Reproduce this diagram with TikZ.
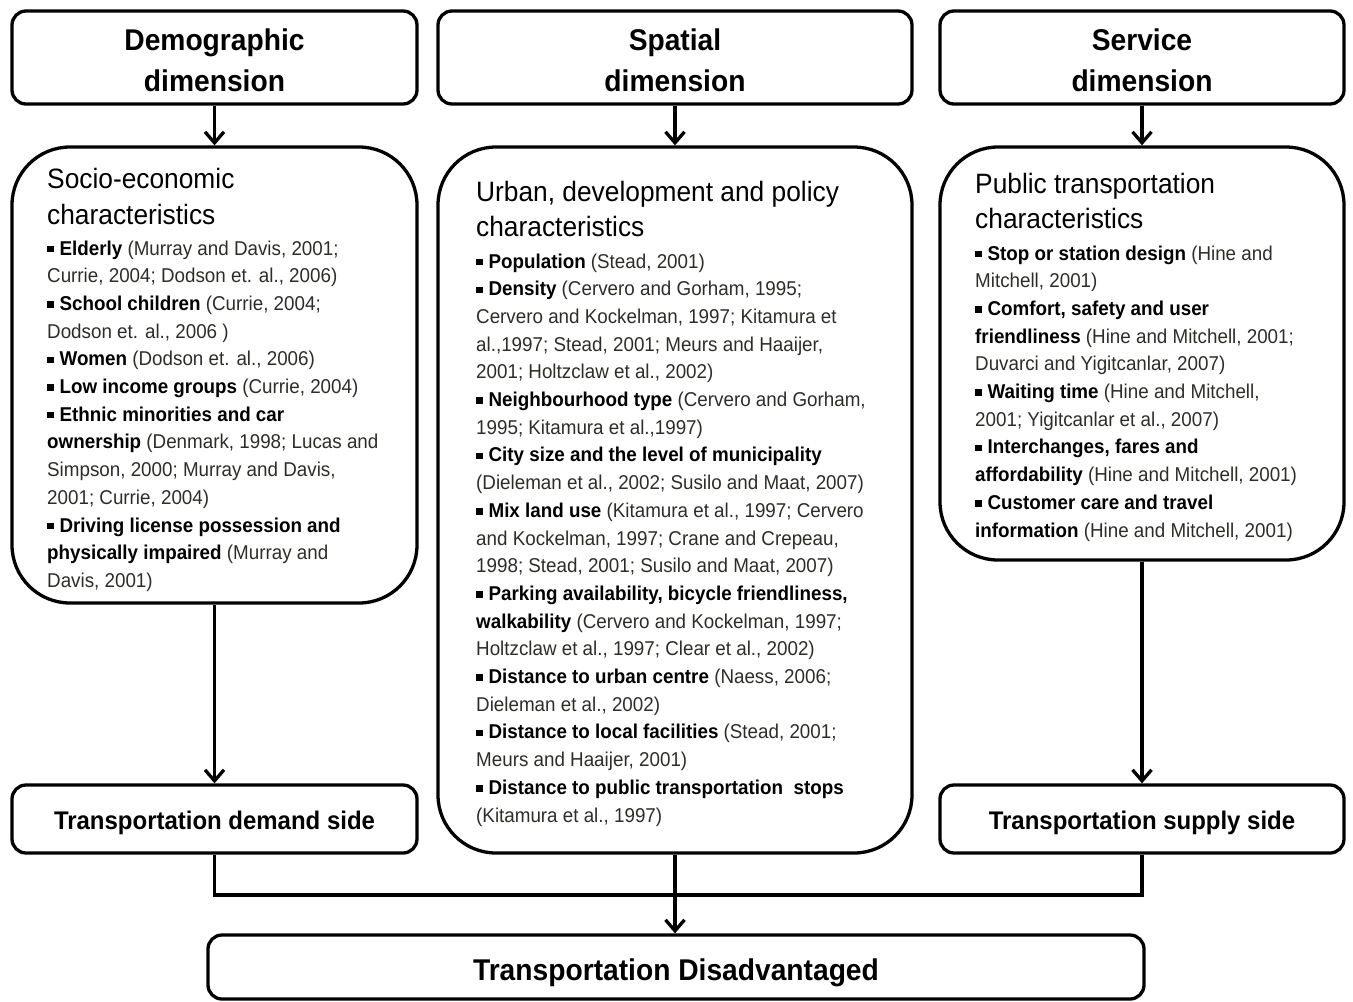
\documentclass[tikz,border=0pt]{standalone}
\usepackage{fontspec}
\setmainfont{Liberation Sans}[FakeStretch=0.94]
\usetikzlibrary{arrows.meta}
\definecolor{citecol}{RGB}{45,45,40}
\newcommand\tblk[2]{\vtop{\baselineskip=#1\lineskiplimit=-1000pt\lineskip=0pt\halign{##\hfil\cr#2\crcr}}}
\newcommand\cblk[2]{\vtop{\baselineskip=#1\lineskiplimit=-1000pt\lineskip=0pt\halign{\hfil##\hfil\cr#2\crcr}}}
\newcommand\bul{\rule[0.14em]{0.32em}{0.32em}\hspace{0.3em}}
\newcommand\bi[1]{\bul\textbf{#1}}
\newcommand\ci[1]{\textcolor{citecol}{#1}}
\begin{document}
\begin{tikzpicture}[x=1pt,y=-1pt,
  sbox/.style={draw,line width=3.3pt,rounded corners=14pt,inner sep=0pt},
  bigbox/.style={draw,line width=3.3pt,rounded corners=58pt,inner sep=0pt},
  hd/.style={inner sep=0pt,anchor=base,font=\fontsize{30}{36}\bfseries\selectfont},
  sub/.style={inner sep=0pt,anchor=base west,font=\fontsize{28}{36}\selectfont},
  bod/.style={inner sep=0pt,anchor=base west,font=\fontsize{20}{27.7}\selectfont},
  side/.style={inner sep=0pt,anchor=base,font=\fontsize{25.5}{30}\bfseries\selectfont},
  ln/.style={line width=3.3pt},
  arr/.style={line width=3.3pt,-{Straight Barb[length=11pt,width=19pt]}}]
\useasboundingbox (0,0) rectangle (1353,1002);
% boxes
\node[sbox,minimum width=405pt,minimum height=93pt] (dem) at (214.5,57.5) {};
\node[sbox,minimum width=474pt,minimum height=93pt] (spa) at (675,57.5) {};
\node[sbox,minimum width=404pt,minimum height=93pt] (ser) at (1142,57.5) {};
\node[bigbox,minimum width=405pt,minimum height=456pt] (soc) at (214.5,375) {};
\node[bigbox,minimum width=474pt,minimum height=706pt] (urb) at (675,500) {};
\node[bigbox,minimum width=404pt,minimum height=413pt] (pub) at (1142,353.5) {};
\node[sbox,minimum width=405pt,minimum height=68pt] (dmd) at (214.5,819) {};
\node[sbox,minimum width=404pt,minimum height=68pt] (sup) at (1142,819) {};
\node[sbox,minimum width=936pt,minimum height=64pt] (td) at (676,967) {};
% headings
\node[hd] (demT) at (214.5,50) {\cblk{41pt}{Demographic\cr dimension}};
\node[hd] (spaT) at (675,50) {\cblk{41pt}{Spatial\cr dimension}};
\node[hd] (serT) at (1142,50) {\cblk{41pt}{Service\cr dimension}};
\node[side] (dmdT) at (214.5,829) {Transportation demand side};
\node[side] (supT) at (1142,829) {Transportation supply side};
\node[hd] (tdT) at (676,980) {Transportation Disadvantaged};
% socio-economic
\node[sub] (socH) at (47,188) {\tblk{36pt}{Socio-economic\cr characteristics}};
\node[bod] (socB) at (47,255) {\tblk{27.7pt}{%
\bi{Elderly} \ci{(Murray and Davis, 2001;}\cr
\ci{Currie, 2004; Dodson et. al., 2006)}\cr
\bi{School children} \ci{(Currie, 2004;}\cr
\ci{Dodson et. al., 2006 )}\cr
\bi{Women} \ci{(Dodson et. al., 2006)}\cr
\bi{Low income groups} \ci{(Currie, 2004)}\cr
\bi{Ethnic minorities and car}\cr
\textbf{ownership} \ci{(Denmark, 1998; Lucas and}\cr
\ci{Simpson, 2000; Murray and Davis,}\cr
\ci{2001; Currie, 2004)}\cr
\bi{Driving license possession and}\cr
\textbf{physically impaired} \ci{(Murray and}\cr
\ci{Davis, 2001)}}};
% urban
\node[sub] (urbH) at (476,201.7) {\tblk{35pt}{Urban, development and policy\cr characteristics}};
\node[bod] (urbB) at (476,268) {\tblk{27.7pt}{%
\bi{Population} \ci{(Stead, 2001)}\cr
\bi{Density} \ci{(Cervero and Gorham, 1995;}\cr
\ci{Cervero and Kockelman, 1997; Kitamura et}\cr
\ci{al.,1997; Stead, 2001; Meurs and Haaijer,}\cr
\ci{2001; Holtzclaw et al., 2002)}\cr
\bi{Neighbourhood type} \ci{(Cervero and Gorham,}\cr
\ci{1995; Kitamura et al.,1997)}\cr
\bi{City size and the level of municipality}\cr
\ci{(Dieleman et al., 2002; Susilo and Maat, 2007)}\cr
\bi{Mix land use} \ci{(Kitamura et al., 1997; Cervero}\cr
\ci{and Kockelman, 1997; Crane and Crepeau,}\cr
\ci{1998; Stead, 2001; Susilo and Maat, 2007)}\cr
\bi{Parking availability, bicycle friendliness,}\cr
\textbf{walkability} \ci{(Cervero and Kockelman, 1997;}\cr
\ci{Holtzclaw et al., 1997; Clear et al., 2002)}\cr
\bi{Distance to urban centre} \ci{(Naess, 2006;}\cr
\ci{Dieleman et al., 2002)}\cr
\bi{Distance to local facilities} \ci{(Stead, 2001;}\cr
\ci{Meurs and Haaijer, 2001)}\cr
\bi{Distance to public transportation\ \ stops}\cr
\ci{(Kitamura et al., 1997)}}};
% public
\node[sub] (pubH) at (975,193) {\tblk{35pt}{Public transportation\cr characteristics}};
\node[bod] (pubB) at (975,260) {\tblk{27.7pt}{%
\bi{Stop or station design} \ci{(Hine and}\cr
\ci{Mitchell, 2001)}\cr
\bi{Comfort, safety and user}\cr
\textbf{friendliness} \ci{(Hine and Mitchell, 2001;}\cr
\ci{Duvarci and Yigitcanlar, 2007)}\cr
\bi{Waiting time} \ci{(Hine and Mitchell,}\cr
\ci{2001; Yigitcanlar et al., 2007)}\cr
\bi{Interchanges, fares and}\cr
\textbf{affordability} \ci{(Hine and Mitchell, 2001)}\cr
\bi{Customer care and travel}\cr
\textbf{information} \ci{(Hine and Mitchell, 2001)}}};
% connectors
\draw[arr] (dem.south) -- (soc.north);
\draw[arr] (spa.south) -- (urb.north);
\draw[arr] (ser.south) -- (pub.north);
\draw[arr] (soc.south) -- (dmd.north);
\draw[arr] (pub.south) -- (sup.north);
\coordinate (j) at (675,895);
\draw[ln] (dmd.south) |- (j) -| (sup.south);
\draw[arr] (urb.south) -- (urb.south |- td.north);
\end{tikzpicture}
\end{document}
